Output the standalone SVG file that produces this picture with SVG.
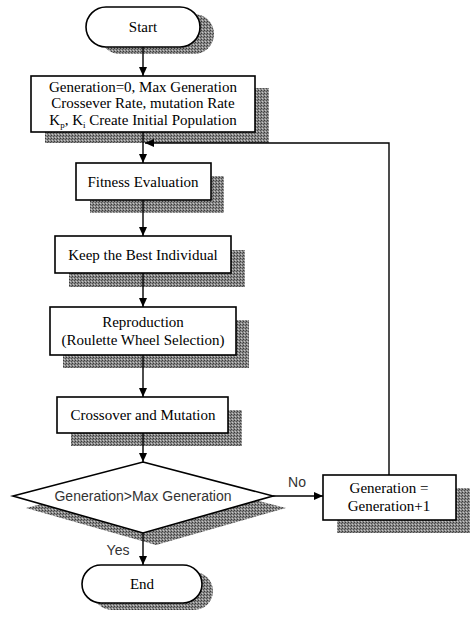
<svg xmlns="http://www.w3.org/2000/svg" width="470" height="621" viewBox="0 0 470 621">
<defs>
<pattern id="dith" width="3" height="3" patternUnits="userSpaceOnUse">
<rect width="3" height="3" fill="#888"/>
<rect x="0" y="0" width="1" height="1" fill="#3a3a3a"/>
<rect x="2" y="1" width="1" height="1" fill="#505050"/>
<rect x="1" y="2" width="1" height="1" fill="#c8c8c8"/>
</pattern>
<marker id="ah" markerWidth="10" markerHeight="10" refX="9" refY="5" orient="auto" markerUnits="userSpaceOnUse">
<path d="M0,1 L9,5 L0,9 Z" fill="#000"/>
</marker>
</defs>
<style>
.box{fill:#fff;stroke:#000;stroke-width:1.6}
.sh{fill:url(#dith)}
.t{font-family:"Liberation Serif","Times New Roman",serif;font-size:15px;fill:#000;text-anchor:middle}
.s{font-family:"Liberation Sans",Arial,sans-serif;font-size:14px;fill:#333;text-anchor:middle}
.ln{fill:none;stroke:#000;stroke-width:1.4}
</style>
<rect width="470" height="621" fill="#fff"/>

<g id="start">
<rect class="sh" x="100" y="14" width="114" height="40" rx="20"/>
<rect class="box" x="86" y="7" width="114" height="40" rx="20"/>
<text class="t" x="143" y="32">Start</text>
</g>

<g id="init">
<rect class="sh" x="45" y="88" width="224" height="55"/>
<rect class="box" x="31" y="76" width="224" height="56"/>
<text class="t" x="143" y="92">Generation=0, Max Generation</text>
<text class="t" x="143" y="108">Crossever Rate, mutation Rate</text>
<text class="t" x="143" y="125">K<tspan font-size="9" dy="3">p</tspan><tspan dy="-3">, K</tspan><tspan font-size="9" dy="3">i</tspan><tspan dy="-3">  Create Initial Population</tspan></text>
</g>

<g id="fitness">
<rect class="sh" x="90" y="176" width="134" height="37"/>
<rect class="box" x="76" y="163" width="135" height="37"/>
<text class="t" x="143" y="187">Fitness Evaluation</text>
</g>

<g id="keep">
<rect class="sh" x="69" y="250" width="176" height="37"/>
<rect class="box" x="55" y="236" width="176" height="37"/>
<text class="t" x="143" y="260">Keep the Best Individual</text>
</g>

<g id="reproduction">
<rect class="sh" x="63" y="320" width="186" height="48"/>
<rect class="box" x="50" y="307" width="186" height="48"/>
<text class="t" x="143" y="327">Reproduction</text>
<text class="t" x="143" y="345">(Roulette Wheel Selection)</text>
</g>

<g id="crossover">
<rect class="sh" x="71" y="410" width="171" height="36"/>
<rect class="box" x="57" y="397" width="171" height="36"/>
<text class="t" x="143" y="420">Crossover and Mutation</text>
</g>

<g id="decision">
<polygon class="sh" points="156,474 286,508 156,545 26,508"/>
<polygon class="box" points="143,462 273,496 143,533 13,496"/>
<text class="s" x="143" y="501">Generation&gt;Max Generation</text>
</g>

<g id="increment">
<rect class="sh" x="337" y="488" width="133" height="45"/>
<rect class="box" x="323" y="475" width="133" height="45"/>
<text class="t" x="389" y="493">Generation =</text>
<text class="t" x="389" y="511">Generation+1</text>
</g>

<g id="end">
<rect class="sh" x="93" y="572" width="120" height="38" rx="19"/>
<rect class="box" x="82" y="565" width="120" height="38" rx="19"/>
<text class="t" x="142" y="589">End</text>
</g>

<g id="connectors">
<line class="ln" x1="143" y1="47" x2="143" y2="76" marker-end="url(#ah)"/>
<line class="ln" x1="143" y1="132" x2="143" y2="163" marker-end="url(#ah)"/>
<line class="ln" x1="143" y1="200" x2="143" y2="236" marker-end="url(#ah)"/>
<line class="ln" x1="143" y1="273" x2="143" y2="307" marker-end="url(#ah)"/>
<line class="ln" x1="143" y1="355" x2="143" y2="397" marker-end="url(#ah)"/>
<line class="ln" x1="143" y1="433" x2="143" y2="462" marker-end="url(#ah)"/>
<line class="ln" x1="143" y1="533" x2="143" y2="565" marker-end="url(#ah)"/>
<line class="ln" x1="273" y1="496" x2="323" y2="496" marker-end="url(#ah)"/>
<polyline class="ln" points="389,475 389,143 145,143" marker-end="url(#ah)"/>
<text class="s" x="297" y="487">No</text>
<text class="s" x="118" y="555">Yes</text>
</g>
</svg>
